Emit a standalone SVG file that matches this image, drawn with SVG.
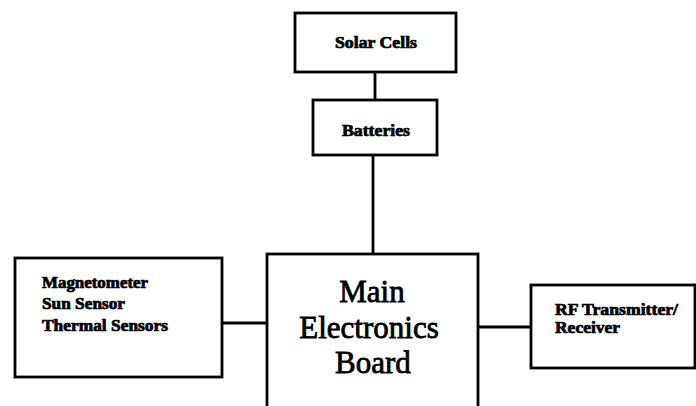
<svg xmlns="http://www.w3.org/2000/svg" width="696" height="406" viewBox="0 0 696 406">
<style>
.box{fill:#fff;stroke:#000;stroke-width:2.8}
.ln{stroke:#000;stroke-width:2.8;fill:none}
.sm{font-family:"Liberation Serif",serif;font-weight:bold;font-size:16px;fill:#000;stroke:#000;stroke-width:0.7}
.big{font-family:"Liberation Serif",serif;font-size:31px;fill:#000;stroke:#000;stroke-width:0.8;text-anchor:middle}
</style>
<rect width="696" height="406" fill="#fff"/>
<g id="connectors">
<line class="ln" x1="375" y1="72" x2="375" y2="100"/>
<line class="ln" x1="373" y1="155" x2="373" y2="254"/>
<line class="ln" x1="222" y1="323" x2="267" y2="323"/>
<line class="ln" x1="478" y1="327" x2="531" y2="327"/>
</g>
<g id="solar">
<rect class="box" x="295" y="13" width="161" height="59"/>
<text class="sm" x="335" y="48" textLength="82" lengthAdjust="spacingAndGlyphs">Solar Cells</text>
</g>
<g id="batteries">
<rect class="box" x="313" y="100" width="124" height="55"/>
<text class="sm" x="342" y="136" textLength="68" lengthAdjust="spacingAndGlyphs">Batteries</text>
</g>
<g id="main">
<rect class="box" x="267" y="254" width="211" height="170"/>
<text class="big" x="372" y="302">Main</text>
<text class="big" x="369" y="338">Electronics</text>
<text class="big" x="373" y="373">Board</text>
</g>
<g id="sensors">
<rect class="box" x="15" y="258" width="207" height="119"/>
<text class="sm" x="42" y="288" textLength="106" lengthAdjust="spacingAndGlyphs">Magnetometer</text>
<text class="sm" x="42" y="309" textLength="83" lengthAdjust="spacingAndGlyphs">Sun Sensor</text>
<text class="sm" x="42" y="331" textLength="126" lengthAdjust="spacingAndGlyphs">Thermal Sensors</text>
</g>
<g id="rf">
<rect class="box" x="531" y="285" width="164" height="83"/>
<text class="sm" x="555" y="315" textLength="123" lengthAdjust="spacingAndGlyphs">RF Transmitter/</text>
<text class="sm" x="555" y="333" textLength="65" lengthAdjust="spacingAndGlyphs">Receiver</text>
</g>
</svg>
